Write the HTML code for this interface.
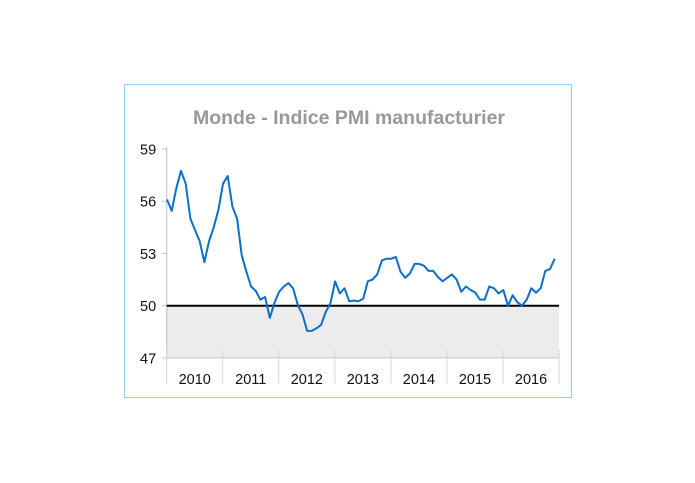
<!DOCTYPE html>
<html><head><meta charset="utf-8"><style>
html,body{margin:0;padding:0;background:#fff;}
svg{display:block;font-family:"Liberation Sans",sans-serif;}
</style></head><body>
<svg id="c" width="695" height="483">
<rect x="124.5" y="84.5" width="447" height="313" fill="#fff" stroke="#9fcbea" stroke-width="1"/>
<text x="349" y="124" text-anchor="middle" font-size="19.5" font-weight="bold" fill="#999">Monde - Indice PMI manufacturier</text>
<g id="g"></g>
</svg>
<script>
const years = ["2010","2011","2012","2013","2014","2015","2016"];
const yTicks = [59,56,53,50,47];
const pmi = [56.1,55.45,56.75,57.75,57.0,55.0,54.35,53.7,52.5,53.7,54.5,55.5,
57.0,57.45,55.7,55.0,52.9,51.95,51.1,50.85,50.35,50.5,49.3,50.15,
50.8,51.1,51.3,51.0,50.05,49.5,48.55,48.55,48.7,48.9,49.65,50.15,
51.4,50.7,51.0,50.25,50.3,50.25,50.4,51.4,51.5,51.8,52.6,52.7,
52.7,52.8,51.95,51.6,51.85,52.4,52.4,52.3,52.0,52.0,51.65,51.4,
51.6,51.8,51.5,50.8,51.1,50.9,50.75,50.35,50.35,51.1,51.0,50.7,
50.9,50.0,50.6,50.2,50.0,50.35,51.0,50.75,51.0,52.0,52.1,52.7];
const NS="http://www.w3.org/2000/svg";
const g=document.getElementById('g');
const X0=166.7, YW=56.05, Y50=305.7, PU=17.41;
const x=i=>X0+0.3+i*YW/12;
const y=v=>Y50-(v-50)*PU;
function mk(t,a){const e=document.createElementNS(NS,t);for(const k in a)e.setAttribute(k,a[k]);g.appendChild(e);return e;}
let e;
e=mk('rect',{x:X0,y:y(50),width:YW*years.length,height:y(47)-y(50),fill:'#ececec'});


e=mk('line',{x1:X0,y1:y(59)-2,x2:X0,y2:y(47),stroke:'#c8c8c8','stroke-width':1.2});


yTicks.forEach(v=>{
 e=mk('line',{x1:X0-5,y1:y(v),x2:X0,y2:y(v),stroke:'#c8c8c8'});
 
 
 e=mk('text',{x:140,y:y(v)+5.5,'font-size':14.5,fill:'#111'});e.textContent=v;
 
 
});
e=mk('line',{x1:X0,y1:y(47),x2:X0+YW*years.length,y2:y(47),stroke:'#c8c8c8','stroke-width':1.2});


for(let k=0;k<=years.length;k++){
 e=mk('line',{x1:X0+k*YW,y1:y(47)-8,x2:X0+k*YW,y2:y(47)+26,stroke:'#d6d6d6'});
 
 
}
years.forEach((yr,k)=>{
 e=mk('text',{x:X0+k*YW+YW/2,y:y(47)+26,'font-size':14.5,'text-anchor':'middle',fill:'#111'});e.textContent=yr;
 
 
});
e=mk('line',{x1:X0,y1:y(50),x2:X0+YW*years.length,y2:y(50),stroke:'#000','stroke-width':2});


e=mk('polyline',{points:pmi.map((v,i)=>x(i).toFixed(1)+','+y(v).toFixed(1)).join(' '),fill:'none',stroke:'#0a6fc9','stroke-width':2,'stroke-linejoin':'round'});


</script>
</body></html>
